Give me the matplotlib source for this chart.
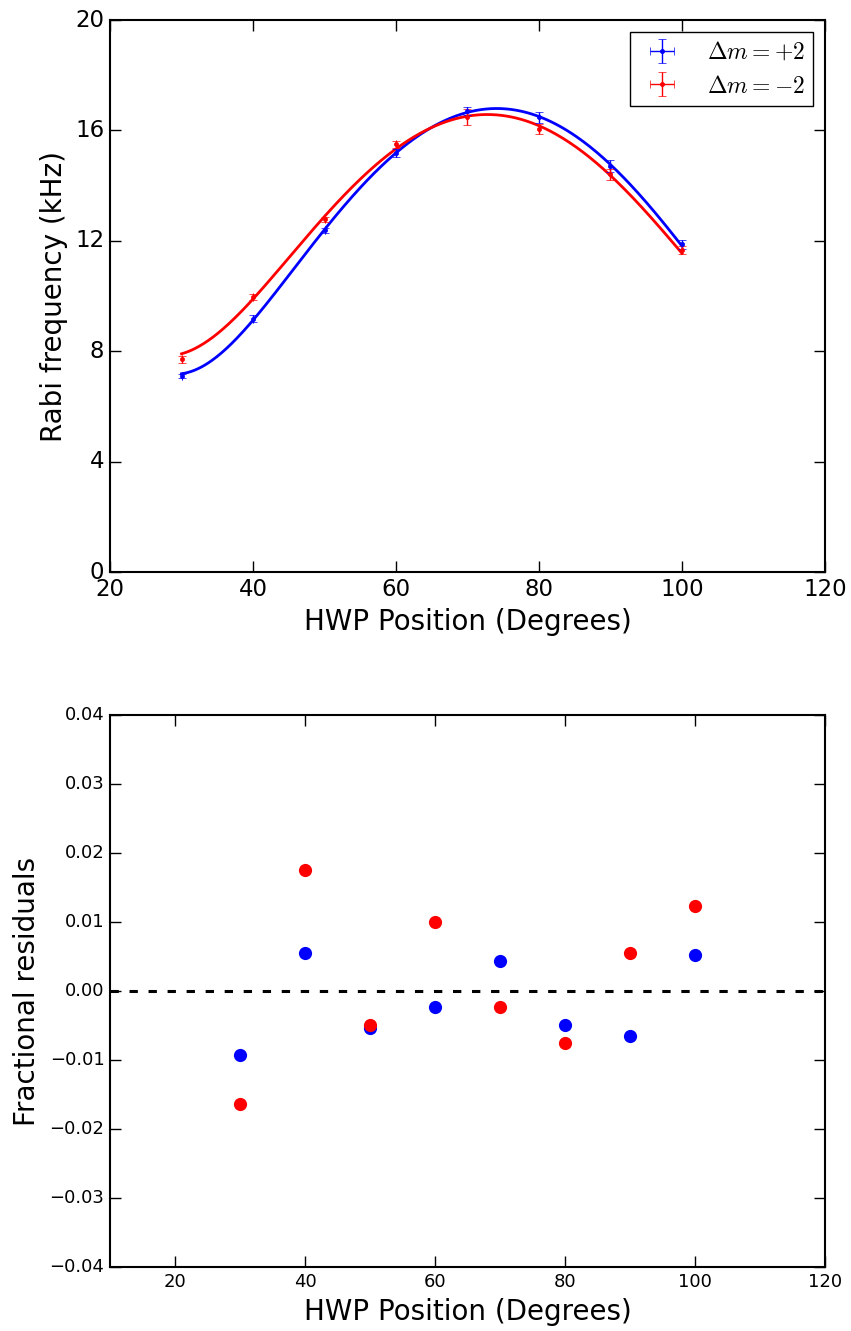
import numpy as np
import matplotlib
matplotlib.use("Agg")
import matplotlib.pyplot as plt
from matplotlib.ticker import FuncFormatter

plt.style.use("classic")
plt.rcParams["mathtext.fontset"] = "cm"
plt.rcParams["font.family"] = ["DejaVu Sans"]

# Data
hwp = np.array([30, 40, 50, 60, 70, 80, 90, 100])
rabi_plus = np.array([7.11, 9.18, 12.38, 15.17, 16.71, 16.47, 14.72, 11.88])
err_plus = np.array([0.08, 0.12, 0.10, 0.14, 0.15, 0.20, 0.22, 0.16])
rabi_minus = np.array([7.71, 9.97, 12.79, 15.50, 16.47, 16.05, 14.41, 11.67])
err_minus = np.array([0.13, 0.10, 0.09, 0.13, 0.29, 0.17, 0.21, 0.15])

resid_plus = np.array([-0.0093, 0.0055, -0.0054, -0.0023, 0.0043, -0.0049, -0.0065, 0.0052])
resid_minus = np.array([-0.0164, 0.0175, -0.0049, 0.0100, -0.0023, -0.0075, 0.0055, 0.0123])

labels = [r"$\Delta m = +2$", r"$\Delta m = -2$"]


def fit_curve(x, y, xs):
    # least-squares fit of Omega^2 = a + b cos(4x) + c sin(4x)
    t = np.deg2rad(x)
    A = np.column_stack([np.ones_like(t), np.cos(4 * t), np.sin(4 * t)])
    coef, *_ = np.linalg.lstsq(A, y ** 2, rcond=None)
    ts = np.deg2rad(xs)
    B = np.column_stack([np.ones_like(ts), np.cos(4 * ts), np.sin(4 * ts)])
    return np.sqrt(B @ coef)


fig = plt.figure(figsize=(8.51, 13.31), dpi=100, facecolor="white")
ax1 = fig.add_axes([0.1293, 0.5702, 0.9694 - 0.1293, 0.98497 - 0.5702])
ax2 = fig.add_axes([0.1293, 0.04808, 0.9694 - 0.1293, 0.4628 - 0.04808])

xs = np.linspace(hwp.min(), hwp.max(), 300)
ax1.plot(xs, fit_curve(hwp, rabi_plus, xs), color="b", lw=2)
ax1.plot(xs, fit_curve(hwp, rabi_minus, xs), color="r", lw=2)
zero_x = np.zeros_like(hwp, dtype=float)
ax1.errorbar(hwp, rabi_plus, yerr=err_plus, xerr=zero_x, fmt=".", color="b",
             ecolor="b", mec="b", ms=6, capsize=3, elinewidth=1, label=labels[0])
ax1.errorbar(hwp, rabi_minus, yerr=err_minus, xerr=zero_x, fmt=".", color="r",
             ecolor="r", mec="r", ms=6, capsize=3, elinewidth=1, label=labels[1])
ax1.set_xlim(20, 120)
ax1.set_ylim(0, 20)
ax1.set_xticks([20, 40, 60, 80, 100, 120])
ax1.set_yticks([0, 4, 8, 12, 16, 20])
ax1.tick_params(labelsize=16.5, width=1, length=8)
ax1.set_xlabel("HWP Position (Degrees)", fontsize=20)
ax1.set_ylabel("Rabi frequency (kHz)", fontsize=20)
leg = ax1.legend(loc="upper right", fontsize=17, numpoints=1, handlelength=2.0,
                 handletextpad=0.9, borderpad=0.35, borderaxespad=0.5,
                 labelspacing=0.4, fancybox=False)
leg.get_frame().set_linewidth(1)

ax2.plot(hwp, resid_plus, "o", color="b", mec="none", ms=9.5)
ax2.plot(hwp, resid_minus, "o", color="r", mec="none", ms=9.5)
ax2.axhline(0, color="k", ls="--", lw=2.2, dashes=(6, 7.7))
ax2.set_xlim(10, 120)
ax2.set_ylim(-0.04, 0.04)
ax2.set_xticks([20, 40, 60, 80, 100, 120])
ax2.set_yticks(np.arange(-0.04, 0.0401, 0.01))
ax2.yaxis.set_major_formatter(FuncFormatter(lambda v, p: f"{v:.2f}".replace("-", "\u2212") if abs(v) > 1e-9 else "0.00"))
ax2.tick_params(labelsize=13, width=1, length=8)
ax2.set_xlabel("HWP Position (Degrees)", fontsize=20)
ax2.set_ylabel("Fractional residuals", fontsize=20, labelpad=6)

for ax in (ax1, ax2):
    for s in ax.spines.values():
        s.set_linewidth(1.5)

fig.savefig("out.png", dpi=100, facecolor="white")
